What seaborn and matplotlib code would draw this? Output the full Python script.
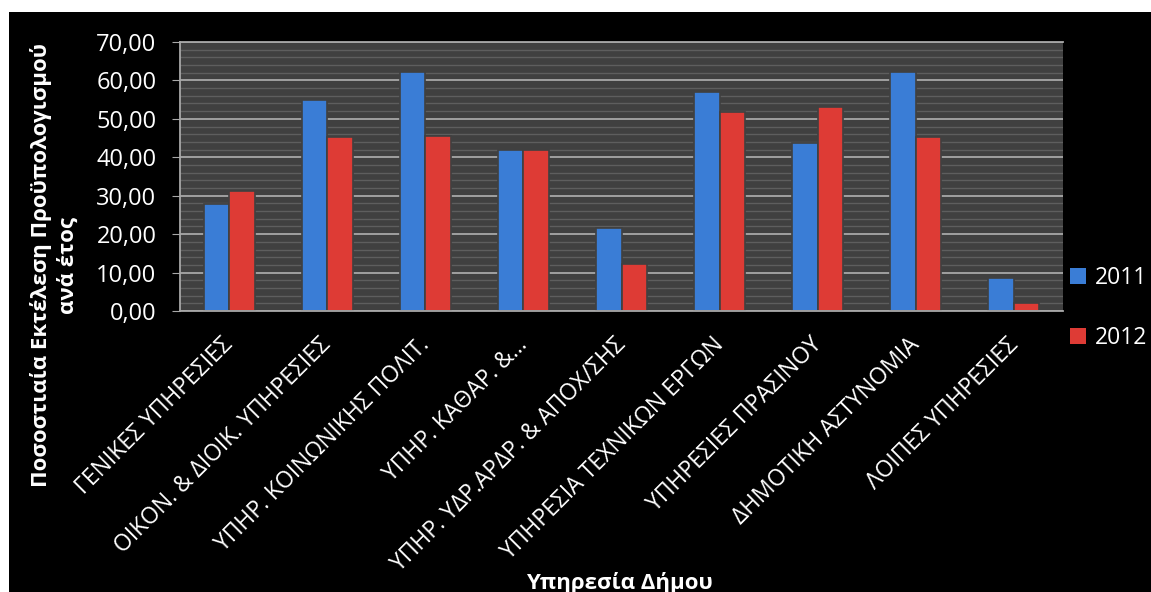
import numpy as np
import pandas as pd
import seaborn as sns
import matplotlib.pyplot as plt
from matplotlib.patches import Rectangle, Patch
from matplotlib.ticker import MultipleLocator, FuncFormatter
from matplotlib.transforms import ScaledTranslation

# Υπηρεσίες του Δήμου
categories = [
    "ΓΕΝΙΚΕΣ ΥΠΗΡΕΣΙΕΣ",
    "ΟΙΚΟΝ. & ΔΙΟΙΚ. ΥΠΗΡΕΣΙΕΣ",
    "ΥΠΗΡ. ΚΟΙΝΩΝΙΚΗΣ ΠΟΛΙΤ.",
    "ΥΠΗΡ. ΚΑΘΑΡ. &...",
    "ΥΠΗΡ. ΥΔΡ.ΑΡΔΡ. & ΑΠΟΧ/ΣΗΣ",
    "ΥΠΗΡΕΣΙΑ ΤΕΧΝΙΚΩΝ ΕΡΓΩΝ",
    "ΥΠΗΡΕΣΙΕΣ ΠΡΑΣΙΝΟΥ",
    "ΔΗΜΟΤΙΚΗ ΑΣΤΥΝΟΜΙΑ",
    "ΛΟΙΠΕΣ ΥΠΗΡΕΣΙΕΣ",
]
years = ["2011", "2012"]
values_2011 = [27.9, 54.8, 62.2, 41.8, 21.7, 57.0, 43.6, 62.2, 8.7]
values_2012 = [31.3, 45.2, 45.6, 41.9, 12.3, 51.8, 53.1, 45.3, 2.2]

df = pd.DataFrame({
    "Υπηρεσία": categories * 2,
    "Έτος": [years[0]] * len(categories) + [years[1]] * len(categories),
    "Ποσοστό": values_2011 + values_2012,
})

sns.set_style("dark")
plt.rcParams["font.family"] = ["Open Sans", "DejaVu Sans"]

fig = plt.figure(figsize=(11.51, 5.92), dpi=100, facecolor="white")
# fond noir de la zone du graphique
fig.patches.append(Rectangle((9 / 1151, 0), 1, 1 - 12 / 592, transform=fig.transFigure,
                             facecolor="black", edgecolor="none", zorder=-10))
ax = fig.add_axes([180 / 1151, 1 - 311 / 592, (1063 - 180) / 1151, (311 - 42) / 592])
ax.set_facecolor("#404040")

couleurs = {"2011": "#3A7DD6", "2012": "#DE3B35"}
sns.barplot(data=df, x="Υπηρεσία", y="Ποσοστό", hue="Έτος", palette=couleurs,
            width=0.52, ax=ax, legend=False, saturation=1)
for p in ax.patches:
    p.set_edgecolor("#404040")
    p.set_linewidth(1.2)

ax.set_ylim(0, 70)
ax.yaxis.set_major_locator(MultipleLocator(10))
ax.yaxis.set_minor_locator(MultipleLocator(2))
ax.yaxis.set_major_formatter(FuncFormatter(lambda v, _: f"{v:.2f}".replace(".", ",")))
ax.grid(which="major", axis="y", color="#A8A8A8", linewidth=1.3, zorder=0)
ax.grid(which="minor", axis="y", color="#5E5E5E", linewidth=1.0, zorder=0)
ax.grid(axis="x", visible=False)
ax.set_axisbelow(True)

for s in ["left", "bottom", "top"]:
    ax.spines[s].set_visible(True)
    ax.spines[s].set_color("#A8A8A8")
    ax.spines[s].set_linewidth(1.3)
ax.spines["right"].set_visible(False)

ax.tick_params(axis="y", which="major", left=True, length=6, color="#A8A8A8",
               labelsize=17, labelcolor="white", pad=11)
ax.tick_params(axis="y", which="minor", left=False)
ax.tick_params(axis="x", bottom=False, labelsize=16.5, labelcolor="white", pad=10)
decalage = ScaledTranslation(-8 / 100, -3 / 100, fig.dpi_scale_trans)
for lbl in ax.get_xticklabels():
    lbl.set_rotation(45)
    lbl.set_ha("right")
    lbl.set_rotation_mode("anchor")
    lbl.set_transform(lbl.get_transform() + decalage)

ax.set_xlabel("Υπηρεσία Δήμου", color="white", fontsize=16, fontweight="bold")
ax.xaxis.set_label_coords(0.498, -0.97)
ax.set_ylabel("Ποσοστιαία Εκτέλεση Προϋπολογισμού\nανά έτος", color="white",
              fontsize=16, fontweight="bold", linespacing=1.4)
ax.yaxis.set_label_coords(-0.114, 0.171)

handles = [Patch(facecolor=couleurs[y], edgecolor="none") for y in years]
leg = ax.legend(handles, years, loc="center left", bbox_to_anchor=(1064 / 1151, 0.48),
                bbox_transform=fig.transFigure, borderaxespad=0, borderpad=0.25,
                frameon=False, fontsize=16.5, labelcolor="white", handlelength=0.7,
                handleheight=0.7, handletextpad=0.4, labelspacing=1.55)

fig.savefig("out.png", dpi=100, facecolor=fig.get_facecolor())
